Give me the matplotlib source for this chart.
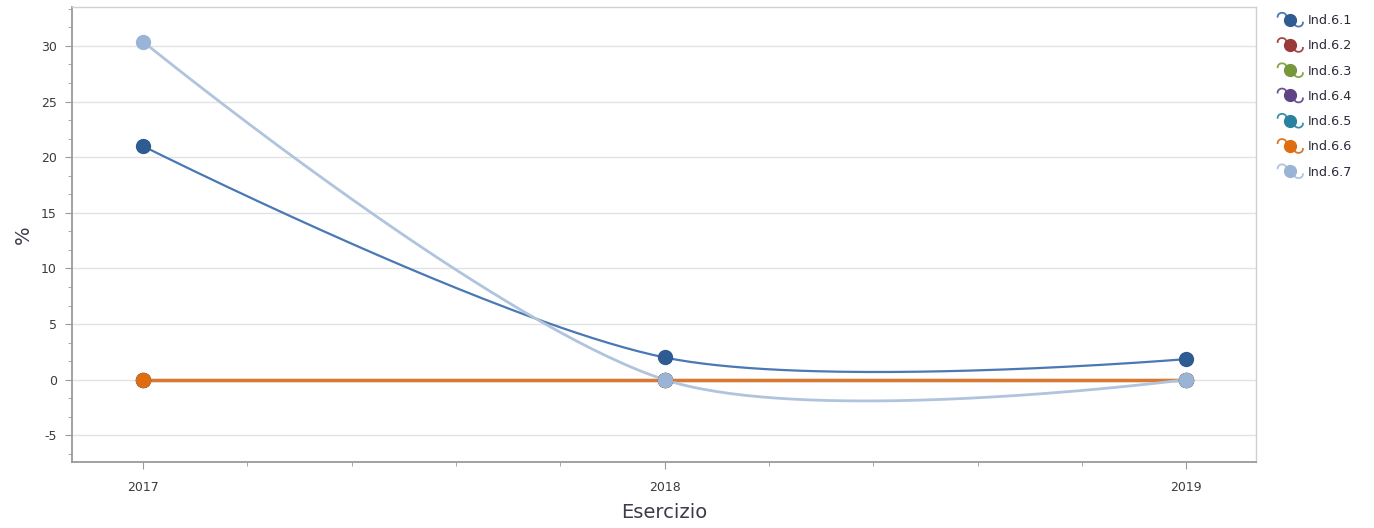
import numpy as np
import matplotlib
matplotlib.use("Agg")
import matplotlib.pyplot as plt
from matplotlib.lines import Line2D
from matplotlib.legend_handler import HandlerBase
from matplotlib.ticker import MultipleLocator

plt.rcParams["axes.unicode_minus"] = False

years = [2017, 2018, 2019]
labels = ["Ind.6.1", "Ind.6.2", "Ind.6.3", "Ind.6.4", "Ind.6.5", "Ind.6.6", "Ind.6.7"]
ind_6_1 = [21.0, 2.0, 1.85]
ind_6_2 = [0.0, 0.0, 0.0]
ind_6_3 = [0.0, 0.0, 0.0]
ind_6_4 = [0.0, 0.0, 0.0]
ind_6_5 = [0.0, 0.0, 0.0]
ind_6_6 = [0.0, 0.0, 0.0]
ind_6_7 = [30.4, 0.0, 0.0]
series = [ind_6_1, ind_6_2, ind_6_3, ind_6_4, ind_6_5, ind_6_6, ind_6_7]

line_colors = ["#4a78b4", "#a84442", "#86a844", "#6e5294", "#3590a8", "#d9782e", "#b0c4de"]
mark_colors = ["#2f5b93", "#9a3a38", "#76983a", "#5e4484", "#2b82a0", "#e06c10", "#9ab4d8"]
line_widths = [1.6, 2.2, 2.2, 2.2, 2.2, 2.4, 2.0]


def spline(ax, x, y, n=80, tau=0.31):
    # smooth bezier curve built in screen space, like the original chart control
    pts = ax.transData.transform(np.column_stack([x, y]).astype(float))
    npts = len(pts)
    c_in = pts.copy()
    c_out = pts.copy()
    for i in range(1, npts - 1):
        d0 = np.hypot(*(pts[i] - pts[i - 1]))
        d1 = np.hypot(*(pts[i + 1] - pts[i]))
        D = pts[i + 1] - pts[i - 1]
        c_in[i] = pts[i] - D * tau * d0 / (d0 + d1)
        c_out[i] = pts[i] + D * tau * d1 / (d0 + d1)
    t = np.linspace(0, 1, n)[:, None]
    out = []
    for i in range(npts - 1):
        seg = ((1 - t) ** 3) * pts[i] + 3 * ((1 - t) ** 2) * t * c_out[i] \
            + 3 * (1 - t) * t ** 2 * c_in[i + 1] + t ** 3 * pts[i + 1]
        out.append(seg)
    out = ax.transData.inverted().transform(np.vstack(out))
    return out[:, 0], out[:, 1]


class CurlHandler(HandlerBase):
    def create_artists(self, legend, orig_handle, xdescent, ydescent,
                       width, height, fontsize, trans):
        cx = width / 2 - xdescent
        cy = height / 2 - ydescent
        r = width * 0.15
        a = np.linspace(np.pi, 0, 20)
        lx = cx - 0.28 * width + r * np.cos(a)
        ly = cy + 0.1 * width + r * np.sin(a) * 0.9
        b = np.linspace(np.pi, 2 * np.pi, 20)
        rx = cx + 0.28 * width + r * np.cos(b)
        ry = cy - 0.1 * width + r * np.sin(b) * 0.9
        col = orig_handle.get_color()
        left = Line2D(lx, ly, color=col, lw=1.3, transform=trans)
        right = Line2D(rx, ry, color=col, lw=1.3, transform=trans)
        mc = orig_handle.get_markerfacecolor()
        dot = Line2D([cx], [cy], marker="o", markersize=8.5, linestyle="none",
                     markerfacecolor=mc, markeredgecolor=mc, transform=trans)
        return [left, right, dot]


fig = plt.figure(figsize=(13.74, 5.28), dpi=100)
ax = fig.add_axes([0.0524, 0.125, 0.8618, 0.8617])
ax.set_xlim(2016.864, 2019.134)
ax.set_ylim(-7.4, 33.5)

handles = []
for vals, lab, lc, mc, lw in zip(series, labels, line_colors, mark_colors, line_widths):
    sx, sy = spline(ax, years, vals)
    ax.plot(sx, sy, color=lc, lw=lw, solid_capstyle="round", zorder=3)
    ax.plot(years, vals, linestyle="none", marker="o", markersize=10,
            markerfacecolor=mc, markeredgecolor=mc, zorder=4)
    handles.append(Line2D([], [], color=lc, marker="o", markerfacecolor=mc, label=lab))

ax.set_xticks(years)
ax.set_xticklabels([str(y) for y in years])
ax.xaxis.set_minor_locator(MultipleLocator(0.2))
ax.yaxis.set_major_locator(MultipleLocator(5))
ax.yaxis.set_minor_locator(MultipleLocator(5 / 3))
ax.grid(axis="y", which="major", color="#e3e3e3", lw=1, zorder=0)

for side in ["left", "bottom"]:
    ax.spines[side].set_color("#9a9a9a")
    ax.spines[side].set_linewidth(1.3)
for side in ["top", "right"]:
    ax.spines[side].set_color("#d0d0d0")
    ax.spines[side].set_linewidth(1.0)

ax.tick_params(axis="both", which="major", length=5, color="#9a9a9a",
               labelsize=9, labelcolor="#3b3b3b")
ax.tick_params(axis="both", which="minor", length=3, color="#9a9a9a")
ax.tick_params(axis="x", pad=9)
ax.tick_params(axis="y", pad=6)

ax.set_xlabel("Esercizio", fontsize=14, color="#3b3b4b", labelpad=6)
ax.set_ylabel("%", fontsize=14, color="#3b3b4b", labelpad=6)

leg = fig.legend(handles=handles, loc="upper left", bbox_to_anchor=(0.92, 0.995),
                 frameon=False, fontsize=9.2, labelspacing=0.96, handlelength=2.3,
                 handletextpad=0.25, handler_map={Line2D: CurlHandler()})
for txt in leg.get_texts():
    txt.set_color("#2a2a3a")

fig.savefig("out.png", dpi=100)
